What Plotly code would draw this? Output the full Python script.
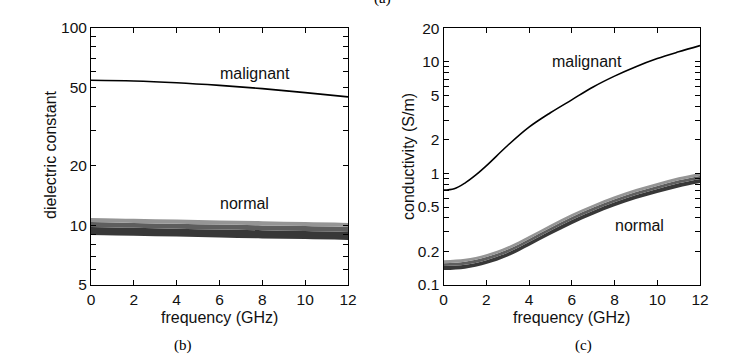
import plotly.graph_objects as go
import math

# ---------------- data ----------------
freq_b = [0, 2, 4, 6, 8, 10, 12]
eps_malignant = [54.1, 53.7, 52.6, 51.0, 49.1, 46.9, 44.6]
# normal band: shading levels from top edge to bottom edge
eps_normal_upper = [10.9, 10.8, 10.7, 10.6, 10.5, 10.4, 10.3]
eps_normal_l1 = [10.4, 10.3, 10.2, 10.1, 10.0, 9.92, 9.83]
eps_normal_l2 = [9.81, 9.72, 9.63, 9.54, 9.45, 9.36, 9.27]
eps_normal_lower = [8.95, 8.87, 8.78, 8.7, 8.6, 8.53, 8.45]

freq_c = [0, 0.5, 1, 1.5, 2, 3, 4, 5, 6, 7, 8, 9, 10, 11, 12]
sig_malignant = [0.71, 0.73, 0.82, 0.966, 1.17, 1.78, 2.6, 3.5, 4.57, 5.96, 7.45, 9.05, 10.7, 12.3, 14.0]

freq_cn = [0, 1, 2, 3, 4, 5, 6, 7, 8, 9, 10, 11, 12]
sig_normal_upper = [0.167, 0.172, 0.189, 0.221, 0.275, 0.347, 0.432, 0.525, 0.624, 0.724, 0.822, 0.923, 1.01]
sig_normal_l1 = [0.157, 0.162, 0.178, 0.208, 0.259, 0.326, 0.406, 0.494, 0.587, 0.681, 0.773, 0.868, 0.949]
sig_normal_l2 = [0.148, 0.152, 0.167, 0.195, 0.243, 0.307, 0.382, 0.464, 0.552, 0.640, 0.727, 0.816, 0.893]
sig_normal_lower = [0.136, 0.140, 0.154, 0.180, 0.224, 0.282, 0.351, 0.427, 0.507, 0.589, 0.668, 0.750, 0.821]

x_ticks = [0, 2, 4, 6, 8, 10, 12]
yb_ticks = [5, 10, 20, 50, 100]
yb_ticktext = ["5", "10", "20", "50", "100"]
yb_minor = [6, 7, 8, 9, 30, 40, 60, 70, 80, 90]
yc_ticks = [0.1, 0.2, 0.5, 1, 2, 5, 10, 20]
yc_ticktext = ["0.1", "0.2", "0.5", "1", "2", "5", "10", "20"]
yc_minor = [0.3, 0.4, 0.6, 0.7, 0.8, 0.9, 3, 4, 6, 7, 8, 9]

FONT = "Liberation Sans, Arial, sans-serif"
SERIF = "Liberation Serif, Times New Roman, serif"
SHADES = ["#383838", "#5e5e5e", "#959595"]  # bottom -> top

fig = go.Figure()

def band(x, levels, xa, ya):
    # levels: list from lower edge to upper edge
    for i, lv in enumerate(levels):
        kw = dict(fill="tonexty", fillcolor=SHADES[i - 1]) if i > 0 else {}
        fig.add_trace(go.Scatter(x=x, y=lv, mode="lines",
                                 line=dict(width=0, color="#444", shape="spline"),
                                 xaxis=xa, yaxis=ya, showlegend=False, hoverinfo="skip", **kw))

band(freq_b, [eps_normal_lower, eps_normal_l2, eps_normal_l1, eps_normal_upper], "x", "y")
fig.add_trace(go.Scatter(x=freq_b, y=eps_malignant, mode="lines",
                         line=dict(color="black", width=1.6, shape="spline"), showlegend=False,
                         xaxis="x", yaxis="y"))

band(freq_cn, [sig_normal_lower, sig_normal_l2, sig_normal_l1, sig_normal_upper], "x2", "y2")
fig.add_trace(go.Scatter(x=freq_c, y=sig_malignant, mode="lines",
                         line=dict(color="black", width=1.6, shape="spline"), showlegend=False,
                         xaxis="x2", yaxis="y2"))

W, H = 745, 363
def px_x(p): return p / W
def px_y(p): return 1 - p / H

axis_common = dict(showline=True, linecolor="black", linewidth=1, mirror="ticks",
                   ticks="inside", ticklen=5, tickcolor="black", showgrid=False, zeroline=False,
                   automargin=False,
                   tickfont=dict(family=FONT, size=15.5, color="#111"))

xcommon = dict(axis_common, range=[0, 12], tickvals=x_ticks)
fig.update_layout(
    template="none",
    width=W, height=H, margin=dict(l=0, r=0, t=0, b=0, pad=0), autosize=False,
    paper_bgcolor="white", plot_bgcolor="white",
    font=dict(family=FONT, color="#111"),
    xaxis=dict(xcommon, domain=[px_x(91), px_x(348)], anchor="y"),
    yaxis=dict(axis_common, type="log", range=[math.log10(5), 2], domain=[px_y(285), px_y(27.5)],
               tickvals=yb_ticks, ticktext=yb_ticktext, anchor="x",
               minor=dict(ticks="inside", ticklen=5, tickcolor="black", tickvals=yb_minor, showgrid=False)),
    xaxis2=dict(xcommon, domain=[px_x(443.5), px_x(700)], anchor="y2"),
    yaxis2=dict(axis_common, type="log", range=[-1, math.log10(20)], domain=[px_y(285), px_y(28.3)],
                tickvals=yc_ticks, ticktext=yc_ticktext, anchor="x2",
                minor=dict(ticks="inside", ticklen=5, tickcolor="black", tickvals=yc_minor, showgrid=False)),
)

tfont = dict(family=FONT, size=16, color="#111")
C = dict(showarrow=False, xanchor="center", yanchor="middle")
ann = [
    dict(text="malignant", x=7.66, y=math.log10(58.8), xref="x", yref="y", font=tfont, **C),
    dict(text="normal", x=7.19, y=math.log10(12.9), xref="x", yref="y", font=tfont, **C),
    dict(text="malignant", x=6.72, y=1.0, xref="x2", yref="y2", font=tfont, **C),
    dict(text="normal", x=9.19, y=-0.463, xref="x2", yref="y2", font=tfont, **C),
    dict(text="frequency (GHz)", x=px_x(219.5), y=px_y(317), xref="paper", yref="paper", font=tfont, **C),
    dict(text="frequency (GHz)", x=px_x(571.7), y=px_y(317), xref="paper", yref="paper", font=tfont, **C),
    dict(text="dielectric constant", x=px_x(50), y=px_y(155), xref="paper", yref="paper",
         textangle=-90, font=tfont, **C),
    dict(text="conductivity (S/m)", x=px_x(408), y=px_y(157), xref="paper", yref="paper",
         textangle=-90, font=tfont, **C),
    dict(text="(b)", x=px_x(183), y=px_y(345), xref="paper", yref="paper",
         font=dict(family=SERIF, size=15, color="black"), **C),
    dict(text="(c)", x=px_x(583), y=px_y(345), xref="paper", yref="paper",
         font=dict(family=SERIF, size=15, color="black"), **C),
    dict(text="(a)", x=px_x(382), y=px_y(-1.5), xref="paper", yref="paper",
         font=dict(family=SERIF, size=15, color="black"), **C),
]
fig.update_layout(annotations=ann)

fig.write_html("out.html", config={"displayModeBar": False},
               post_script="document.body.style.margin='0px';document.body.style.overflow='hidden';")
